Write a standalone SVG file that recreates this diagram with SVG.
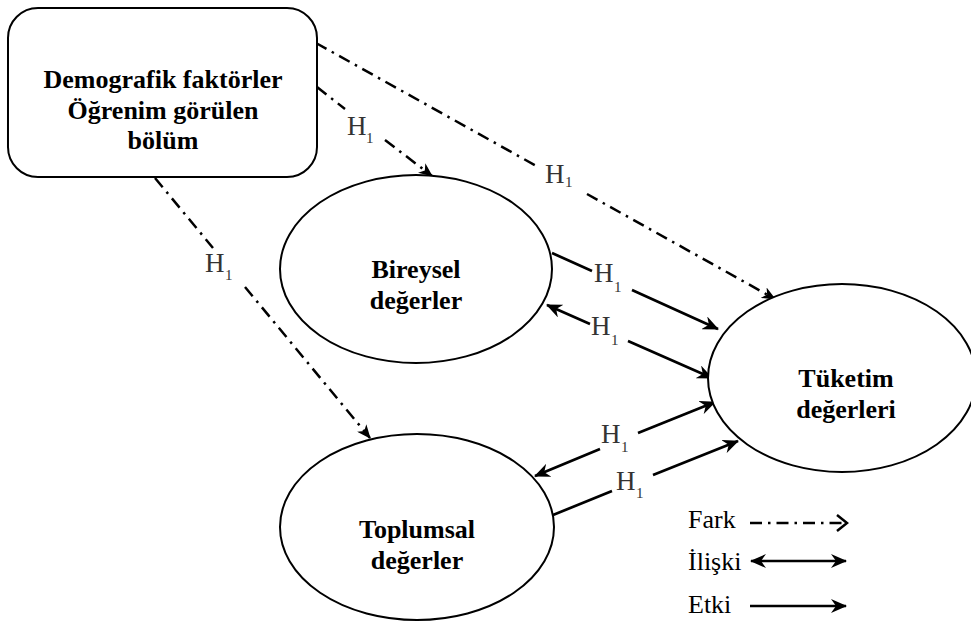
<svg xmlns="http://www.w3.org/2000/svg" width="971" height="621" viewBox="0 0 971 621">
<defs>
<style>
.node{fill:#fff;stroke:#000;stroke-width:2}
.nt{font-family:"Liberation Serif","Times New Roman",serif;font-weight:bold;font-size:26px;fill:#000;text-anchor:middle}
.dd{fill:none;stroke:#000;stroke-width:2.5;stroke-dasharray:12 6 2.5 6}
.sl{fill:none;stroke:#000;stroke-width:2.7}
.lb{font-family:"Liberation Serif","Times New Roman",serif;font-size:27px;fill:#333}
.sb{font-size:15px}
.lg{font-family:"Liberation Serif","Times New Roman",serif;font-size:26px;fill:#000}
</style>
<marker id="ah" markerUnits="userSpaceOnUse" viewBox="0 0 16 14" refX="15" refY="7" markerWidth="16" markerHeight="14" orient="auto-start-reverse">
<path d="M0,0 L16,7 L0,14 L5,7 Z" fill="#000"/>
</marker>
<marker id="ahs" markerUnits="userSpaceOnUse" viewBox="0 0 14 12" refX="13" refY="6" markerWidth="14" markerHeight="12" orient="auto">
<path d="M0,0 L14,6 L0,12 L4,6 Z" fill="#000"/>
</marker>
</defs>

<g id="connectors">
<path class="dd" d="M316,43 L540,168 M587,194 L775,299" marker-end="url(#ahs)"/>
<path class="dd" d="M317,87 L345,109 M385,140 L432,176" marker-end="url(#ahs)"/>
<path class="dd" d="M155,178 L213,248 M245,287 L370,438" marker-end="url(#ahs)"/>
<path class="sl" d="M552,253 L592,271 M632,290 L718,329" marker-end="url(#ah)"/>
<path class="sl" d="M547,305 L590,324 M628,341 L712,378" marker-start="url(#ah)" marker-end="url(#ah)"/>
<path class="sl" d="M535,476 L600,449 M638,433 L715,402" marker-start="url(#ah)" marker-end="url(#ah)"/>
<path class="sl" d="M553,515 L612,491 M653,475 L738,441" marker-end="url(#ah)"/>
</g>

<g id="labels">
<text class="lb" x="347" y="135">H<tspan class="sb" x="366" y="143">1</tspan></text>
<text class="lb" x="545" y="183">H<tspan class="sb" x="565" y="187">1</tspan></text>
<text class="lb" x="205" y="272">H<tspan class="sb" x="225" y="280">1</tspan></text>
<text class="lb" x="594" y="282">H<tspan class="sb" x="614" y="292">1</tspan></text>
<text class="lb" x="591" y="335">H<tspan class="sb" x="611" y="345">1</tspan></text>
<text class="lb" x="601" y="443">H<tspan class="sb" x="621" y="452">1</tspan></text>
<text class="lb" x="616" y="490">H<tspan class="sb" x="636" y="498">1</tspan></text>
</g>

<g id="demografik">
<rect class="node" x="8" y="8" width="309" height="169" rx="30" ry="30"/>
<text class="nt" x="163" y="88">Demografik faktörler</text>
<text class="nt" x="163" y="119">Öğrenim görülen</text>
<text class="nt" x="163" y="149">bölüm</text>
</g>

<g id="bireysel">
<ellipse class="node" cx="416" cy="269" rx="136" ry="94"/>
<text class="nt" x="416" y="278">Bireysel</text>
<text class="nt" x="416" y="309">değerler</text>
</g>

<g id="toplumsal">
<ellipse class="node" cx="417" cy="527" rx="137" ry="93"/>
<text class="nt" x="417" y="538">Toplumsal</text>
<text class="nt" x="417" y="569">değerler</text>
</g>

<g id="tuketim">
<ellipse class="node" cx="842" cy="378" rx="134" ry="94"/>
<text class="nt" x="846" y="387">Tüketim</text>
<text class="nt" x="846" y="418">değerleri</text>
</g>

<g id="legend">
<text class="lg" x="688" y="528">Fark</text>
<path class="dd" d="M750,523 L846,523"/>
<path d="M837,515 L847,523 L837,531" fill="none" stroke="#000" stroke-width="2.5"/>
<text class="lg" x="688" y="570">İlişki</text>
<path class="sl" d="M751,561 L846,561" marker-start="url(#ah)" marker-end="url(#ah)"/>
<text class="lg" x="688" y="613">Etki</text>
<path class="sl" d="M750,606 L846,606" marker-end="url(#ah)"/>
</g>
</svg>
